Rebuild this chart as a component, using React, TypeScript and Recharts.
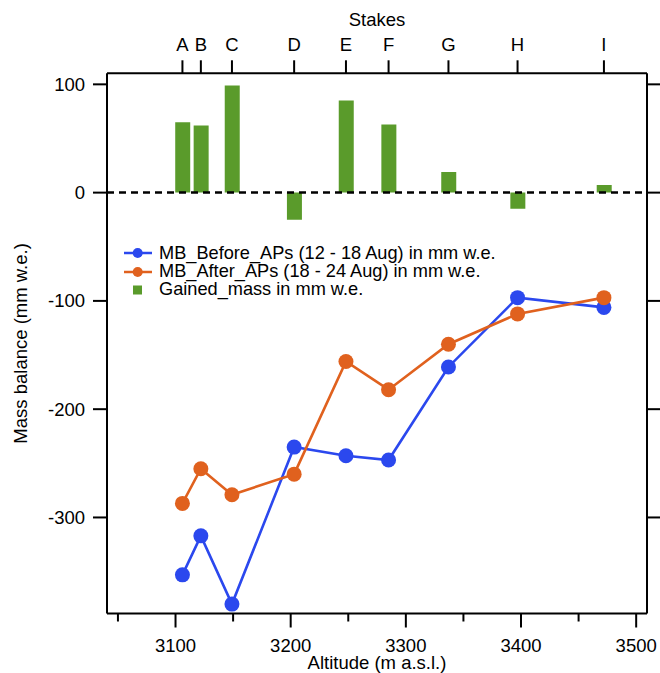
import React from "react";
import {
  ComposedChart,
  Line,
  Bar,
  XAxis,
  YAxis,
  ReferenceLine,
  Legend,
} from "recharts";

// ── Data ──────────────────────────────────────────────────

const stakes = ["A", "B", "C", "D", "E", "F", "G", "H", "I"];
const altitudes = [3106, 3122, 3149, 3203, 3248, 3285, 3337, 3397, 3472];
const mbBefore = [-353, -317, -380, -235, -243, -247, -161, -97, -106];
const mbAfter = [-287, -255, -279, -260, -156, -182, -140, -112, -97];
const gainedMass = [65, 62, 99, -25, 85, 63, 19, -15, 7];

const altitudeTicks = [3050, 3100, 3150, 3200, 3250, 3300, 3350, 3400, 3450, 3500];
const mbTicks = [100, 0, -100, -200, -300];

const ALT_DOMAIN: [number, number] = [3040.5, 3509.4];
const MB_DOMAIN: [number, number] = [-388.7, 110.2];

// ── Styles ────────────────────────────────────────────────

const FONT = "'Liberation Sans', Arial, Helvetica, sans-serif";
const FS = 18.5;
const BLUE = "#2b48ee";
const ORANGE = "#e0611e";
const GREEN = "#5a9b2b";
const AXIS = { stroke: "#000", strokeWidth: 2 };

const rows = altitudes.map((alt, i) => ({
  alt,
  stake: stakes[i],
  before: mbBefore[i],
  after: mbAfter[i],
  gained: gainedMass[i],
}));

// ── Sub-components ────────────────────────────────────────

const BottomTick = ({ x, y, payload }: any) => {
  const major = payload.value % 100 === 0;
  return (
    <g>
      <line x1={x} x2={x} y1={y} y2={y + (major ? 14 : 8)} stroke="#000" strokeWidth={2} />
      {major && (
        <text x={x} y={y + 38.6} textAnchor="middle" fontSize={FS} fill="#000" fontFamily={FONT}>
          {payload.value}
        </text>
      )}
    </g>
  );
};

const YTitle = ({ viewBox }: any) => {
  const cx = 20.5;
  const cy = viewBox.y + viewBox.height / 2;
  return (
    <text
      x={cx}
      y={cy}
      transform={`rotate(-90 ${cx} ${cy})`}
      textAnchor="middle"
      dominantBaseline="central"
      fontSize={FS}
      fill="#000"
      fontFamily={FONT}
    >
      Mass balance (mm w.e.)
    </text>
  );
};

const legendItems = [
  { kind: "line", color: BLUE, text: "MB_Before_APs (12 - 18 Aug) in mm w.e." },
  { kind: "line", color: ORANGE, text: "MB_After_APs (18 - 24 Aug) in mm w.e." },
  { kind: "square", color: GREEN, text: "Gained_mass in mm w.e." },
];

const LegendBox = () => (
  <div style={{ fontFamily: FONT, fontSize: 18.2, color: "#000" }}>
    {legendItems.map((item) => (
      <div key={item.text} style={{ display: "flex", alignItems: "center", height: 18.4 }}>
        <svg width={37} height={18} style={{ flex: "none" }}>
          {item.kind === "line" ? (
            <>
              <line x1={2} x2={30} y1={9} y2={9} stroke={item.color} strokeWidth={2.5} />
              <circle cx={15.7} cy={9} r={5} fill={item.color} />
            </>
          ) : (
            <rect x={11} y={4.5} width={9} height={9} fill={item.color} />
          )}
        </svg>
        <span style={{ whiteSpace: "nowrap" }}>{item.text}</span>
      </div>
    ))}
  </div>
);

// ── Component ─────────────────────────────────────────────

export default function App() {
  return (
    <div style={{ position: "absolute", left: 0, top: 0, background: "#fff" }}>
      <ComposedChart
        width={660}
        height={673}
        data={rows}
        margin={{ top: 0, right: 0, bottom: 0, left: 0 }}
        style={{ fontFamily: FONT }}
      >
        <XAxis
          xAxisId="bottom"
          dataKey="alt"
          type="number"
          domain={ALT_DOMAIN}
          allowDataOverflow
          ticks={altitudeTicks}
          interval={0}
          height={59.5}
          tickSize={0}
          tickMargin={0}
          tickLine={false}
          axisLine={AXIS}
          tick={<BottomTick />}
          label={{
            value: "Altitude (m a.s.l.)",
            position: "insideBottom",
            offset: 4.5,
            fontSize: FS,
            fill: "#000",
          }}
        />
        <XAxis
          xAxisId="top"
          dataKey="alt"
          orientation="top"
          type="number"
          domain={ALT_DOMAIN}
          allowDataOverflow
          ticks={altitudes}
          interval={0}
          height={73.3}
          tickSize={13}
          tickMargin={9.4}
          tickLine={AXIS}
          axisLine={AXIS}
          tick={{ fill: "#000", fontSize: FS }}
          tickFormatter={(v: number) => stakes[altitudes.indexOf(v)] ?? ""}
          label={{
            value: "Stakes",
            position: "insideTop",
            offset: 13,
            fontSize: FS,
            fill: "#000",
          }}
        />
        <YAxis
          yAxisId="left"
          type="number"
          domain={MB_DOMAIN}
          allowDataOverflow
          ticks={mbTicks}
          interval={0}
          width={107}
          tickSize={14}
          tickMargin={8}
          tickLine={AXIS}
          axisLine={AXIS}
          tick={{ fill: "#000", fontSize: FS }}
          label={{ content: <YTitle /> }}
        />
        <YAxis
          yAxisId="right"
          orientation="right"
          type="number"
          domain={MB_DOMAIN}
          allowDataOverflow
          ticks={mbTicks}
          interval={0}
          width={13}
          tickSize={13}
          tickLine={AXIS}
          axisLine={AXIS}
          tickFormatter={() => ""}
        />
        <Legend
          layout="vertical"
          align="center"
          verticalAlign="middle"
          wrapperStyle={{ left: 122, top: 244, width: "auto" }}
          content={<LegendBox />}
        />
        <Bar
          xAxisId="top"
          yAxisId="left"
          dataKey="gained"
          fill={GREEN}
          barSize={15}
          isAnimationActive={false}
        />
        <ReferenceLine
          xAxisId="bottom"
          yAxisId="left"
          y={0}
          stroke="#000"
          strokeWidth={2.5}
          strokeDasharray="7 5"
        />
        <Line
          xAxisId="bottom"
          yAxisId="left"
          dataKey="before"
          type="linear"
          stroke={BLUE}
          strokeWidth={2.6}
          dot={{ r: 7.5, fill: BLUE, stroke: "none" }}
          activeDot={false}
          isAnimationActive={false}
        />
        <Line
          xAxisId="bottom"
          yAxisId="left"
          dataKey="after"
          type="linear"
          stroke={ORANGE}
          strokeWidth={2.6}
          dot={{ r: 7.5, fill: ORANGE, stroke: "none" }}
          activeDot={false}
          isAnimationActive={false}
        />
      </ComposedChart>
    </div>
  );
}
